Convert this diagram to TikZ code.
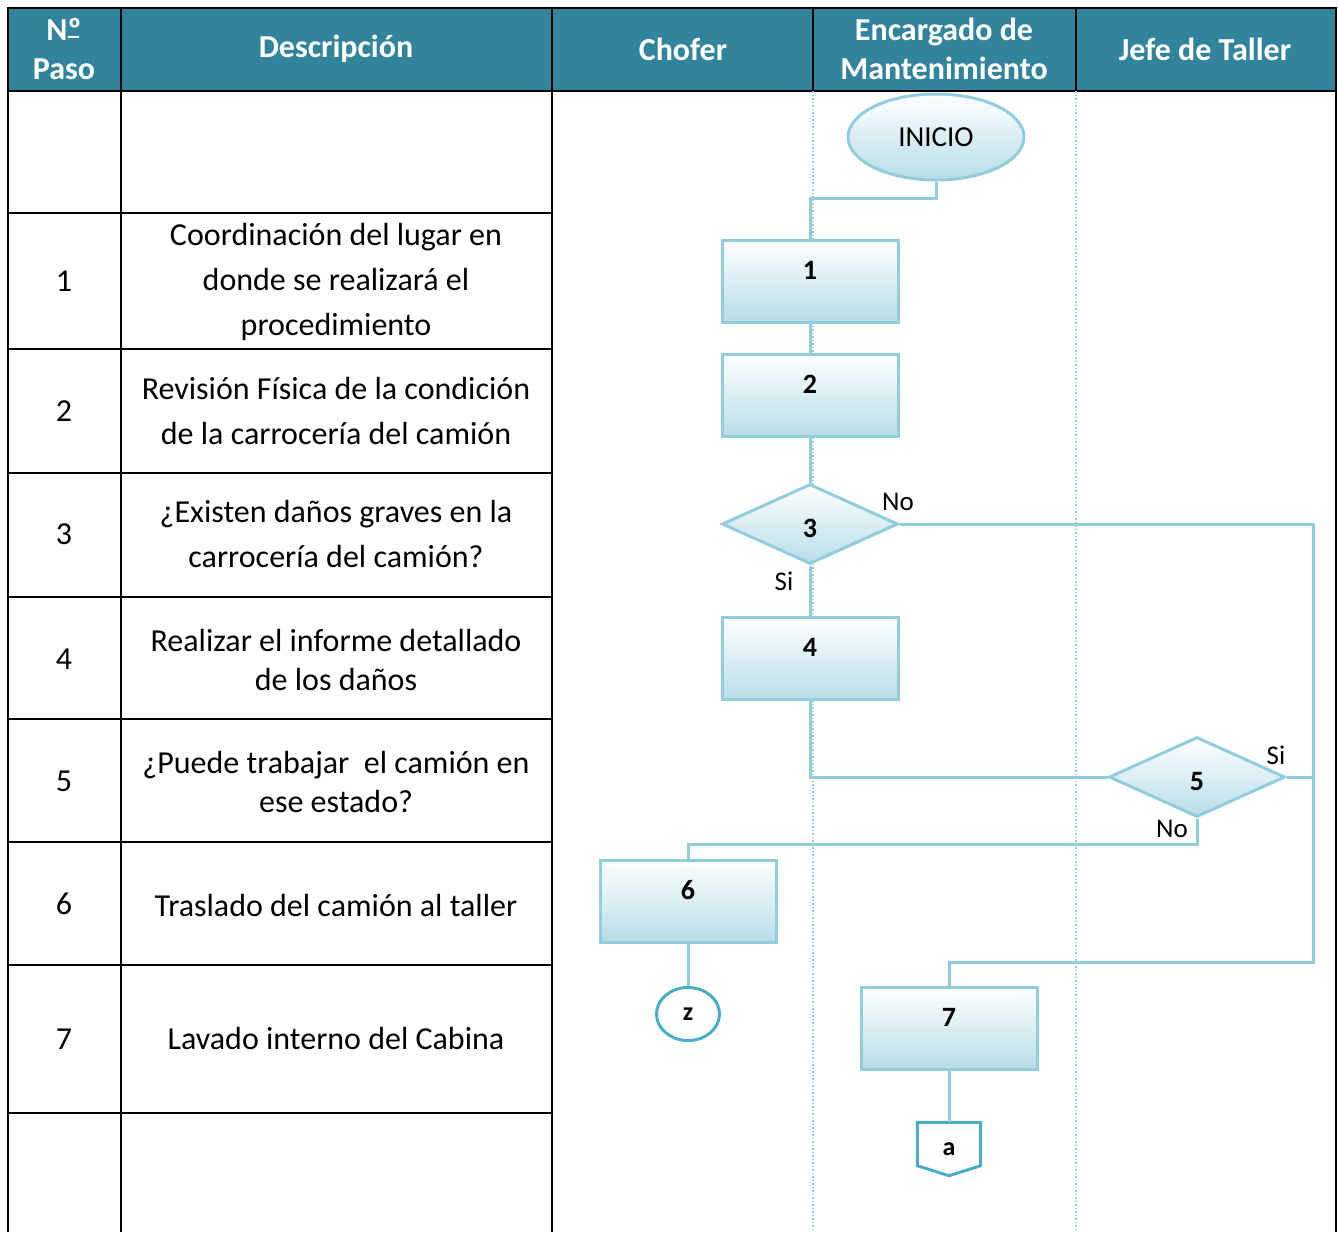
\documentclass[tikz,border=0pt]{standalone}
\usepackage{fontspec}
\setmainfont{Carlito}
\usetikzlibrary{shapes.geometric}
\definecolor{headteal}{RGB}{49,132,155}
\definecolor{flowblue}{RGB}{146,205,220}
\definecolor{shadeblue}{RGB}{183,221,232}
\definecolor{termblue}{RGB}{75,172,198}

\begin{document}
\begin{tikzpicture}[x=1pt,y=-1pt]

%
% Styles
%
\tikzstyle{headcell} = [text=white,align=center,font=\fontsize{32}{39}\selectfont\bfseries]
\tikzstyle{desc}     = [align=center,font=\fontsize{32}{45}\selectfont]
\tikzstyle{grid}     = [line width=2.5pt]
\tikzstyle{lane}     = [flowblue,line width=1.5pt,dotted]
\tikzstyle{shaded}   = [draw=flowblue,line width=3pt,top color=white,bottom color=shadeblue]
\tikzstyle{procbox}  = [rectangle,shaded,minimum width=176pt,minimum height=82pt,
                        text height=14pt,text depth=18pt,font=\fontsize{28}{32}\selectfont\bfseries]
\tikzstyle{decision} = [diamond,shaded,minimum width=176pt,minimum height=80pt,inner sep=0pt,
                        text height=26pt,text depth=0pt,font=\fontsize{28}{32}\selectfont\bfseries]
\tikzstyle{link}     = [draw=flowblue,line width=3pt]
\tikzstyle{answer}   = [font=\fontsize{27}{30}\selectfont]

\useasboundingbox (0,0) rectangle (1338,1232);

% table
\fill[headteal] (8,8) rectangle (1336,91);
\draw[grid] (8,8) rectangle (1336,91);
\foreach \x in {121,552,813,1076}
  \draw[grid] (\x,8) -- (\x,91);
\foreach \x in {8,121,552,1336}
  \draw[grid] (\x,91) -- (\x,1232);
\foreach \y in {213,349,473,597,719,842,965,1113}
  \draw[grid] (8,\y) -- (552,\y);
\draw[lane] (813,91) -- (813,1232);
\draw[lane] (1076,91) -- (1076,1232);

\node[headcell] (hpaso)   at (64,49)   {N\makebox[0pt][l]{\rule[0.08em]{0.36em}{2pt}}º\\Paso};
\node[headcell] (hdesc)   at (336,49)  {Descripción};
\node[headcell] (hchofer) at (683,49)  {Chofer};
\node[headcell] (hencarg) at (944,49)  {Encargado de\\Mantenimiento};
\node[headcell] (hjefe)   at (1205,49) {Jefe de Taller};

\foreach \n/\y in {1/281,2/411,3/534,4/659,5/781,6/904,7/1039}
  \node[desc] (paso\n) at (64,\y) {\n};

\node[desc] (desc1) at (336,282)  {Coordinación del lugar en\\donde se realizará el\\procedimiento};
\node[desc] (desc2) at (336,411)  {Revisión Física de la condición\\de la carrocería del camión};
\node[desc] (desc3) at (336,534)  {¿Existen daños graves en la\\carrocería del camión?};
\node[desc,font=\fontsize{32}{39}\selectfont] (desc4) at (336,660) {Realizar el informe detallado\\de los daños};
\node[desc,font=\fontsize{32}{39}\selectfont] (desc5) at (336,782) {¿Puede trabajar\ \ el camión en\\ese estado?};
\node[desc] (desc6) at (336,905)  {Traslado del camión al taller};
\node[desc] (desc7) at (336,1038) {Lavado interno del Cabina};

% flow
\node[ellipse,shaded,minimum width=176pt,minimum height=86pt,
      font=\fontsize{29}{32}\selectfont] (inicio) at (936,137) {INICIO};
\node[procbox]  (p1) at (810,281)    {1};
\node[procbox]  (p2) at (810,395)    {2};
\node[decision] (d3) at (810,524)    {3};
\node[procbox]  (p4) at (810,658.5)  {4};
\node[decision] (d5) at (1197,777)   {5};
\node[procbox]  (p6) at (688,901)    {6};
\node[procbox]  (p7) at (949,1028)   {7};
\node[ellipse,draw=termblue,line width=3pt,fill=white,minimum width=63pt,minimum height=53pt,
      inner sep=0pt,font=\fontsize{26}{28}\selectfont\bfseries] (z) at (688,1014) {z};
\node[minimum width=63pt,minimum height=43pt,inner sep=0pt,text height=22pt,text depth=0pt,
      font=\fontsize{26}{28}\selectfont\bfseries] (a) at (949,1144) {a};
\draw[termblue,line width=3pt,line join=miter]
  (a.north west) -- (a.south west) -- ([yshift=-10pt]a.south) -- (a.south east) -- (a.north east) -- cycle;

\coordinate (bend7) at (1313,962);

\draw[link] (inicio.south) -- ++(0,17) -| (p1.north);
\draw[link] (p1.south) -- (p2.north);
\draw[link] (p2.south) -- (d3.north);
\draw[link] (d3.south) -- (p4.north);
\draw[link] (d3.east) -| (bend7) -| (p7.north);
\draw[link] (p4.south) |- (d5.west);
\draw[link] (d5.east) -- (d5.east -| bend7);
\draw[link] (d5.south) -- ++(0,26) -| (p6.north);
\draw[link] (p6.south) -- (z.north);
\draw[link] (p7.south) -- (a.north);

\node[answer] (no3) at (898,502)  {No};
\node[answer] (si3) at (784,581)  {Si};
\node[answer] (si5) at (1276,755) {Si};
\node[answer] (no5) at (1172,829) {No};

\end{tikzpicture}
\end{document}
